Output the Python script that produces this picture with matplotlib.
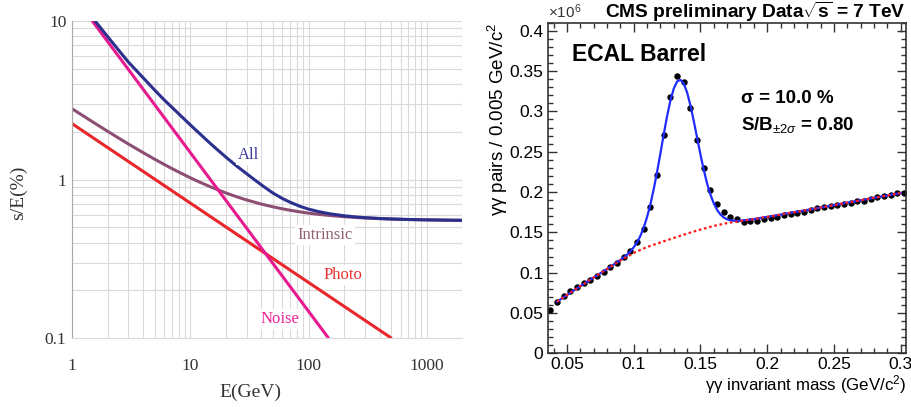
import numpy as np
import matplotlib
matplotlib.use("Agg")
import matplotlib.pyplot as plt
from matplotlib.ticker import FixedLocator, MultipleLocator, FuncFormatter, NullFormatter

plt.rcParams['mathtext.fontset'] = 'custom'
plt.rcParams['mathtext.rm'] = 'Liberation Sans'
plt.rcParams['mathtext.bf'] = 'Liberation Sans:bold'
plt.rcParams['mathtext.it'] = 'Liberation Sans:italic'

# ---- left panel: resolution terms (%) ----
noise_E = [1.48, 148]
noise_val = [10.0, 0.1]

photo_E = [1, 505]
photo_val = [2.25, 0.1]

intr_E = [1, 1.5, 2, 2.5, 3, 4, 5, 6, 7, 8, 10, 12, 15, 20, 25, 30, 40, 50, 60, 70,
          85, 100, 120, 150, 200, 250, 300, 400, 500, 700, 1000, 1500, 2000]
intr_val = [2.793, 2.303, 2.013, 1.817, 1.674, 1.476, 1.343, 1.246, 1.172, 1.114,
            1.026, 0.963, 0.896, 0.823, 0.776, 0.743, 0.700, 0.673, 0.654, 0.640,
            0.625, 0.614, 0.604, 0.594, 0.583, 0.577, 0.572, 0.567, 0.5635, 0.5597,
            0.5568, 0.5545, 0.5534]

all_E = [1.56, 2, 2.5, 3, 4, 5, 6, 7, 8, 10, 12, 15, 20, 25, 30, 40, 50, 60, 70, 85,
         100, 120, 150, 200, 250, 300, 400, 500, 700, 1000, 1500, 2000]
all_val = [10.0, 7.95, 6.48, 5.49, 4.37, 3.66, 3.18, 2.85, 2.59, 2.21, 1.947, 1.670,
           1.384, 1.207, 1.087, 0.924, 0.822, 0.760, 0.719, 0.677, 0.651, 0.629, 0.609,
           0.591, 0.581, 0.5753, 0.5683, 0.5644, 0.5601, 0.557, 0.5545, 0.5534]

# ---- right panel: gamma-gamma mass spectrum (x 1e6) ----
bin_lo = 0.0375
bin_width = 0.005
counts = [0.0537, 0.0632, 0.0707, 0.0769, 0.0818, 0.0868, 0.0913, 0.0955, 0.1012, 0.1067,
          0.1124, 0.1200, 0.1270, 0.1380, 0.1546, 0.1820, 0.2210, 0.2710, 0.3180, 0.3440,
          0.3370, 0.3040, 0.2640, 0.2295, 0.2026, 0.1850, 0.1757, 0.1695, 0.1666, 0.1633,
          0.1638, 0.1640, 0.1666, 0.1680, 0.1695, 0.1716, 0.1724, 0.1737, 0.1757, 0.1778,
          0.1799, 0.1811, 0.1828, 0.1844, 0.1852, 0.1869, 0.1886, 0.1894, 0.1910, 0.1935,
          0.1952, 0.1968, 0.1985, 0.1990]

bg_mass = [0.0425, 0.05, 0.06, 0.07, 0.08, 0.09, 0.10, 0.11, 0.12, 0.13, 0.14, 0.15, 0.16,
           0.17, 0.18, 0.19, 0.20, 0.21, 0.22, 0.23, 0.24, 0.25, 0.26, 0.27, 0.28, 0.29, 0.30]
bg_vals = [0.0640, 0.0723, 0.0833, 0.0940, 0.1045, 0.1150, 0.1245, 0.1318, 0.1375, 0.1430,
           0.1485, 0.1535, 0.1580, 0.1615, 0.1640, 0.1665, 0.1692, 0.1720, 0.1749, 0.1778,
           0.1808, 0.1838, 0.1868, 0.1898, 0.1928, 0.1958, 0.1988]

fit_mass = [0.0425, 0.05, 0.06, 0.07, 0.08, 0.09,
            0.0925, 0.095, 0.0975, 0.10, 0.1025, 0.105, 0.1075, 0.11, 0.1125, 0.115,
            0.1175, 0.12, 0.1225, 0.125, 0.1275, 0.13, 0.1325, 0.135, 0.1375, 0.14,
            0.1425, 0.145, 0.1475, 0.15, 0.1525, 0.155, 0.1575, 0.16, 0.1625, 0.165,
            0.1675, 0.17, 0.1725, 0.175, 0.1775, 0.18,
            0.19, 0.20, 0.21, 0.22, 0.23, 0.24, 0.25, 0.26, 0.27, 0.28, 0.29, 0.30]
fit_vals = [0.0640, 0.0723, 0.0833, 0.0940, 0.1045, 0.1158,
            0.1188, 0.1223, 0.1263, 0.1315, 0.1376, 0.1456, 0.1559, 0.1690, 0.1847, 0.2036,
            0.2249, 0.2480, 0.2716, 0.2941, 0.3134, 0.3283, 0.3371, 0.3392, 0.3344, 0.3235,
            0.3075, 0.2881, 0.2673, 0.2466, 0.2273, 0.2105, 0.1967, 0.1859, 0.1778, 0.1721,
            0.1684, 0.1662, 0.1649, 0.1644, 0.1642, 0.1644,
            0.1665, 0.1692, 0.1720, 0.1749, 0.1778, 0.1808, 0.1838, 0.1868, 0.1898, 0.1928,
            0.1958, 0.1988]


def draw_resolution(ax):
    serif = 'Liberation Serif'
    ax.set_xscale('log')
    ax.set_yscale('log')
    ax.set_xlim(1, 2000)
    ax.set_ylim(0.1, 10)

    ax.grid(which='both', color='#dadada', lw=0.8)
    ax.set_axisbelow(True)
    for s in ['top', 'right']:
        ax.spines[s].set_visible(False)
    ax.spines['left'].set_color('#a8a8a8')
    ax.spines['bottom'].set_color('#dadada')

    ax.plot(intr_E, intr_val, color='#8c4f73', lw=2.2, solid_capstyle='butt')
    ax.plot(photo_E, photo_val, color='#e8262b', lw=2.2, solid_capstyle='butt')
    ax.plot(noise_E, noise_val, color='#e6198f', lw=2.2, solid_capstyle='butt')
    ax.plot(all_E, all_val, color='#2b2f8e', lw=2.2, solid_capstyle='butt',
            solid_joinstyle='round')

    box = dict(facecolor='white', edgecolor='none', pad=1.5)
    ax.text(31, 1.42, 'All', color='#3d3d9e', fontsize=12, family=serif,
            ha='center', va='center', bbox=box)
    ax.text(138, 0.449, 'Intrinsic', color='#936078', fontsize=12, family=serif,
            ha='center', va='center', bbox=box)
    ax.text(196, 0.252, 'Photo', color='#e8302f', fontsize=12, family=serif,
            ha='center', va='center', bbox=box)
    ax.text(57, 0.133, 'Noise', color='#ec2597', fontsize=12, family=serif,
            ha='center', va='center', bbox=box)

    ax.xaxis.set_major_locator(FixedLocator([1, 10, 100, 1000]))
    ax.xaxis.set_minor_formatter(NullFormatter())
    ax.xaxis.set_major_formatter(FuncFormatter(lambda v, p: '%g' % v))
    ax.yaxis.set_major_locator(FixedLocator([0.1, 1, 10]))
    ax.yaxis.set_minor_formatter(NullFormatter())
    ax.yaxis.set_major_formatter(FuncFormatter(lambda v, p: '%g' % v))
    ax.tick_params(which='both', length=0, labelsize=12.5, colors='#333333')
    ax.tick_params(axis='x', pad=14)
    ax.tick_params(axis='y', pad=4)
    for lab in ax.get_xticklabels() + ax.get_yticklabels():
        lab.set_family(serif)

    ax.set_xlabel('E(GeV)', fontsize=14, family=serif, color='#333333', va='center')
    ax.xaxis.set_label_coords(0.456, -0.171)
    ax.set_ylabel('s/E(%)', fontsize=14, family=serif, color='#333333', va='center')
    ax.yaxis.set_label_coords(-0.138, 0.457)


def draw_mass(ax):
    sans = 'Liberation Sans'
    mass = bin_lo + bin_width * np.arange(len(counts))

    ax.plot(mass, counts, 'o', color='black', ms=3.6, zorder=2)
    ax.plot(fit_mass, fit_vals, color='#1f2cff', lw=1.6, zorder=3)
    ax.plot(bg_mass, bg_vals, color='#ff1a1a', lw=1.6, ls=(0, (1.2, 1.2)), zorder=4)

    ax.set_xlim(0.036, 0.304)
    ax.set_ylim(0, 0.41)
    ax.xaxis.set_major_locator(MultipleLocator(0.05))
    ax.xaxis.set_minor_locator(MultipleLocator(0.01))
    ax.yaxis.set_major_locator(MultipleLocator(0.05))
    ax.yaxis.set_minor_locator(MultipleLocator(0.01))
    fmt = FuncFormatter(lambda v, p: '%g' % round(v, 3))
    ax.xaxis.set_major_formatter(fmt)
    ax.yaxis.set_major_formatter(fmt)
    ax.tick_params(which='both', direction='in', top=True, right=True,
                   color='#333333', width=1.0, labelsize=12.5)
    ax.tick_params(which='major', length=6.5)
    ax.tick_params(which='minor', length=3.5)
    ax.tick_params(axis='x', pad=3)
    ax.tick_params(axis='y', pad=3.5)
    for lab in ax.get_xticklabels() + ax.get_yticklabels():
        lab.set_family(sans)
    for s in ax.spines.values():
        s.set_linewidth(1.2)
        s.set_color('#333333')

    ax.set_xlabel(r'γγ invariant mass (GeV/c$^{2}$)', fontsize=12.2, family=sans,
                  ha='right', va='center')
    ax.xaxis.set_label_coords(1.0, -0.093)
    ax.set_ylabel(r'γγ pairs / 0.005 GeV/c$^{2}$', fontsize=13.5, family=sans,
                  ha='right', va='center')
    ax.yaxis.set_label_coords(-0.141, 1.0)

    ax.text(0.0, 1.032, r'×10$^{6}$', transform=ax.transAxes, fontsize=11,
            family=sans, ha='left', va='center', color='#333333')
    ax.text(1.0, 1.032, r'CMS preliminary Data$\sqrt{\mathbf{s}}$ = 7 TeV',
            transform=ax.transAxes, fontsize=13.8, weight='bold', family=sans,
            ha='right', va='center')
    ax.text(0.065, 0.905, 'ECAL Barrel', transform=ax.transAxes, fontsize=16.5,
            weight='bold', family=sans, ha='left', va='center')
    ax.text(0.54, 0.77, r'σ = 10.0 %', transform=ax.transAxes, fontsize=13.5,
            weight='bold', family=sans, ha='left', va='center')
    ax.text(0.54, 0.69, r'S/B$_{\pm 2\sigma}$ = 0.80', transform=ax.transAxes,
            fontsize=13.5, weight='bold', family=sans, ha='left', va='center')


def main():
    fig = plt.figure(figsize=(9.12, 4.07), dpi=100)
    ax1 = fig.add_axes([0.0789, 0.1688, 0.4281, 0.7803])
    ax2 = fig.add_axes([0.6012, 0.1319, 0.3922, 0.8123])
    draw_resolution(ax1)
    draw_mass(ax2)
    fig.savefig('out.png', dpi=100)


if __name__ == "__main__":
    main()
